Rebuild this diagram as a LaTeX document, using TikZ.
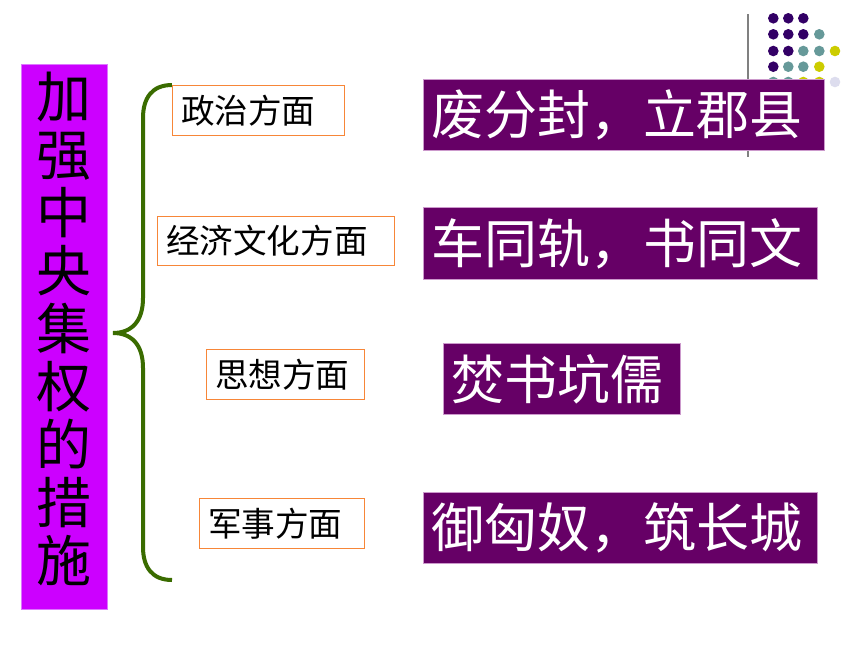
\documentclass[tikz,border=0pt]{standalone}
\usepackage{fontspec}
\newfontfamily\cjk{Noto Sans CJK SC}
\definecolor{barviolet}{RGB}{204,0,255}
\definecolor{barborder}{RGB}{221,119,255}
\definecolor{boxpurple}{RGB}{102,0,102}
\definecolor{boxborder}{RGB}{204,153,204}
\definecolor{lblorange}{RGB}{247,134,56}
\definecolor{bracegreen}{RGB}{58,108,0}
\definecolor{dotpurple}{RGB}{51,0,102}
\definecolor{dotteal}{RGB}{102,153,153}
\definecolor{dotyellow}{RGB}{204,204,0}
\definecolor{dotlav}{RGB}{221,221,238}
\definecolor{rulegray}{RGB}{128,128,128}
\begin{document}
\begin{tikzpicture}[x=1pt,y=-1pt,
  lbl/.style={draw=lblorange, line width=1.2pt, fill=white, anchor=north west,
    inner xsep=8.5pt, inner ysep=0pt, align=left,
    font=\cjk\fontsize{33.6}{36}\selectfont, text=black},
  fact/.style={draw=boxborder, line width=0.8pt, fill=boxpurple, anchor=north west,
    inner xsep=8pt, inner ysep=0pt, align=left,
    font=\cjk\fontsize{53}{56}\selectfont, text=white},
  dotp/.style={fill=dotpurple},
  dott/.style={fill=dotteal},
  doty/.style={fill=dotyellow},
  dotl/.style={fill=dotlav},
  brace/.style={draw=bracegreen, line width=4pt, line cap=butt}
]
\useasboundingbox (0,0) rectangle (860,645);
\fill[white] (0,0) rectangle (860,645);

% decorative rule and dots
\draw[rulegray, line width=1.2pt] (748,14) -- (748,157);
\def\ra{5.3}
\foreach \x in {773.3,788.3,803.3} \fill[dotp] (\x,18.3) circle (\ra);
\foreach \x in {773.3,788.3,803.3} \fill[dotp] (\x,34.3) circle (\ra);
\fill[dott] (819.3,34.3) circle (\ra);
\foreach \x in {773.3,788.3} \fill[dotp] (\x,51) circle (\ra);
\foreach \x in {803.3,819.3} \fill[dott] (\x,51) circle (\ra);
\fill[doty] (835,51) circle (\ra);
\fill[dotp] (773.3,66.7) circle (\ra);
\foreach \x in {788.3,803.3} \fill[dott] (\x,66.7) circle (\ra);
\fill[doty] (819.3,66.7) circle (\ra);
\foreach \x in {773.3,788.3} \fill[dott] (\x,82) circle (\ra);
\foreach \x in {803.3,819.3} \fill[doty] (\x,82) circle (\ra);
\fill[dotl] (835,82) circle (\ra);

% left title bar
\node[draw=barborder, line width=0.8pt, fill=barviolet, anchor=north west,
  minimum width=86pt, minimum height=545pt, inner sep=0pt] (bar) at (21,64) {};
\node[font=\cjk\fontsize{55}{58}\selectfont, align=center, inner sep=0pt, text=black]
  (bartext) at (64,329) {加\\强\\中\\央\\集\\权\\的\\措\\施};

% brace
\coordinate (btop) at (172,85);
\coordinate (btip) at (113,333);
\coordinate (bbot) at (172,580);
\draw[brace] (btop) .. controls (152,85) and (143,98) .. (143,118)
  -- (143,298) .. controls (143,322) and (131,333) .. (btip)
  .. controls (131,333) and (143,344) .. (143,368)
  -- (143,547) .. controls (143,567) and (152,580) .. (bbot);

% aspect labels
\node[lbl, minimum width=172pt, minimum height=50pt, text width=155pt] (p1) at (172,85) {政治方面};
\node[lbl, minimum width=237pt, minimum height=49pt, text width=220pt] (p2) at (157,216) {经济文化方面};
\node[lbl, minimum width=158pt, minimum height=50pt, text width=141pt] (p3) at (206,349) {思想方面};
\node[lbl, minimum width=165pt, minimum height=50pt, text width=148pt] (p4) at (199,498) {军事方面};

% measures
\node[fact, minimum width=401pt, minimum height=71pt, text width=385pt] (f1) at (423,79) {废分封，立郡县};
\node[fact, minimum width=394pt, minimum height=72pt, text width=378pt] (f2) at (423,207) {车同轨，书同文};
\node[fact, minimum width=237pt, minimum height=71pt, text width=221pt] (f3) at (443,343) {焚书坑儒};
\node[fact, minimum width=394pt, minimum height=71pt, text width=378pt] (f4) at (423,492) {御匈奴，筑长城};
\end{tikzpicture}
\end{document}
